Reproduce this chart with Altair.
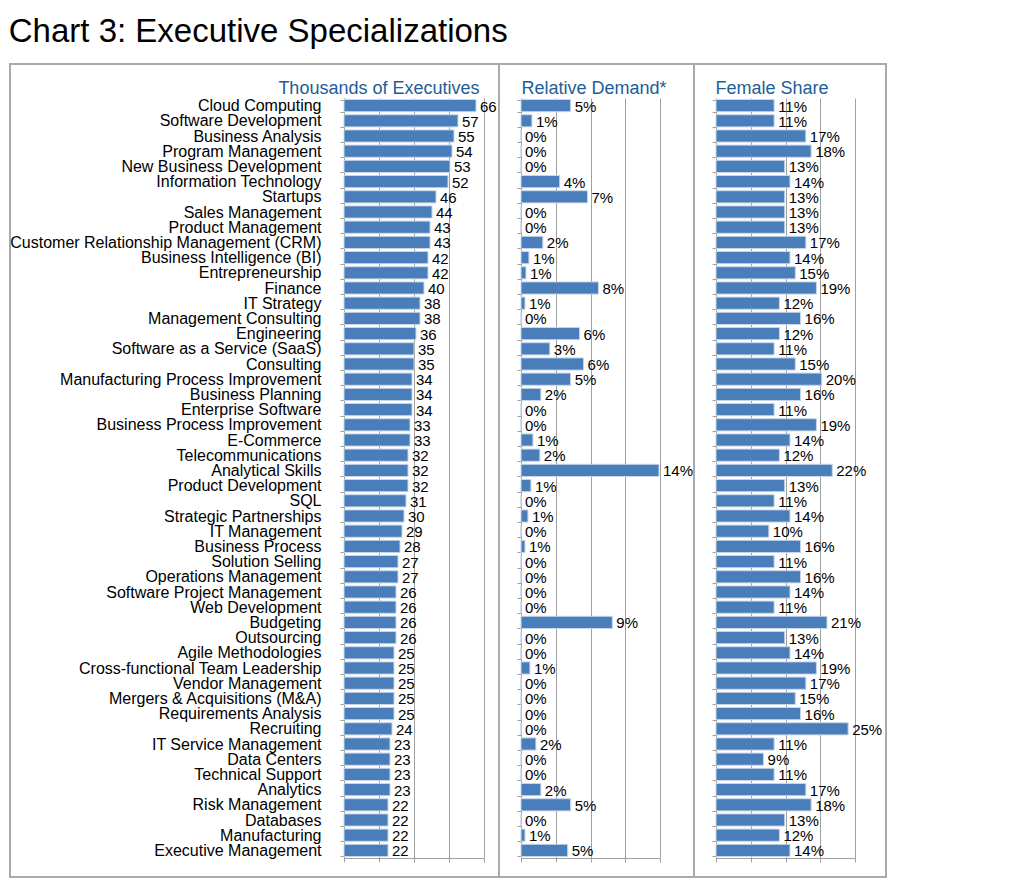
import altair as alt
import pandas as pd

skills = [
    "Cloud Computing", "Software Development", "Business Analysis", "Program Management",
    "New Business Development", "Information Technology", "Startups", "Sales Management",
    "Product Management", "Customer Relationship Management (CRM)", "Business Intelligence (BI)",
    "Entrepreneurship", "Finance", "IT Strategy", "Management Consulting", "Engineering",
    "Software as a Service (SaaS)", "Consulting", "Manufacturing Process Improvement",
    "Business Planning", "Enterprise Software", "Business Process Improvement", "E-Commerce",
    "Telecommunications", "Analytical Skills", "Product Development", "SQL",
    "Strategic Partnerships", "IT Management", "Business Process", "Solution Selling",
    "Operations Management", "Software Project Management", "Web Development", "Budgeting",
    "Outsourcing", "Agile Methodologies", "Cross-functional Team Leadership",
    "Vendor Management", "Mergers & Acquisitions (M&A)", "Requirements Analysis", "Recruiting",
    "IT Service Management", "Data Centers", "Technical Support", "Analytics",
    "Risk Management", "Databases", "Manufacturing", "Executive Management",
]

executives = [66, 57, 55, 54, 53, 52, 46, 44, 43, 43, 42, 42, 40, 38, 38, 36, 35, 35, 34, 34,
              34, 33, 33, 32, 32, 32, 31, 30, 29, 28, 27, 27, 26, 26, 26, 26, 25, 25, 25, 25,
              25, 24, 23, 23, 23, 23, 22, 22, 22, 22]

demand = [0.050, 0.011, 0.0, 0.0, 0.0, 0.039, 0.067, 0.0, 0.0, 0.022,
          0.008, 0.005, 0.078, 0.004, 0.0, 0.059, 0.029, 0.063, 0.050, 0.020,
          0.0, 0.0, 0.012, 0.019, 0.139, 0.010, 0.0, 0.007, 0.0, 0.004,
          0.0, 0.0, 0.0, 0.0, 0.092, 0.0, 0.0, 0.009, 0.0, 0.0,
          0.0, 0.0, 0.015, 0.0, 0.0, 0.020, 0.050, 0.0, 0.004, 0.047]

demand_labels = ["5%", "1%", "0%", "0%", "0%", "4%", "7%", "0%", "0%", "2%",
                 "1%", "1%", "8%", "1%", "0%", "6%", "3%", "6%", "5%", "2%",
                 "0%", "0%", "1%", "2%", "14%", "1%", "0%", "1%", "0%", "1%",
                 "0%", "0%", "0%", "0%", "9%", "0%", "0%", "1%", "0%", "0%",
                 "0%", "0%", "2%", "0%", "0%", "2%", "5%", "0%", "1%", "5%"]

female_share = [0.11, 0.11, 0.17, 0.18, 0.13, 0.14, 0.13, 0.13, 0.13, 0.17,
                0.14, 0.15, 0.19, 0.12, 0.16, 0.12, 0.11, 0.15, 0.20, 0.16,
                0.11, 0.19, 0.14, 0.12, 0.22, 0.13, 0.11, 0.14, 0.10, 0.16,
                0.11, 0.16, 0.14, 0.11, 0.21, 0.13, 0.14, 0.19, 0.17, 0.15,
                0.16, 0.25, 0.11, 0.09, 0.11, 0.17, 0.18, 0.13, 0.12, 0.14]

df = pd.DataFrame({
    "skill": skills,
    "execs": executives,
    "demand": demand,
    "demand_label": demand_labels,
    "female": female_share,
})

FONT = "Liberation Sans"
GRAY = "#a0a0a0"
BLUE = "#4a7ebb"
TITLE_BLUE = "#215e99"
Y_RANGE = [34, 794]
VIEW_H = 813
AXIS_OFF = -19


def y_enc(first, offset):
    if first:
        axis = alt.Axis(title=None, orient="left", offset=offset, labelPadding=19, tickSize=4,
                        labelLimit=400, labelFontSize=16, labelColor="black", labelFont=FONT,
                        tickBand="extent", domainColor=GRAY, tickColor=GRAY, grid=False)
    else:
        axis = alt.Axis(title=None, orient="left", offset=offset, labels=False, tickSize=4,
                        tickBand="extent", domainColor=GRAY, tickColor=GRAY, grid=False)
    return alt.Y("skill:N", sort=None,
                 scale=alt.Scale(range=Y_RANGE, paddingInner=0.2, paddingOuter=0.1),
                 axis=axis)


def tick_values(domain):
    step = domain[1] / 4
    return [0, step, 2 * step, 3 * step, 4 * step]


def x_bottom(field, domain, rng, title, title_x, title_align):
    axis_y = VIEW_H + AXIS_OFF
    return alt.X(field, scale=alt.Scale(domain=domain, range=rng, nice=False, zero=True),
                 axis=alt.Axis(title=title, orient="bottom", offset=AXIS_OFF, labels=False,
                               values=tick_values(domain), tickSize=4, grid=False,
                               domainColor=GRAY, tickColor=GRAY,
                               titleX=title_x, titleY=29 - axis_y, titleAlign=title_align,
                               titleBaseline="alphabetic", titleFont=FONT, titleFontSize=18,
                               titleFontWeight="normal", titleColor=TITLE_BLUE))


def x_top(field, domain, rng):
    return alt.X(field, scale=alt.Scale(domain=domain, range=rng, nice=False, zero=True),
                 axis=alt.Axis(title=None, orient="top", offset=-Y_RANGE[0], labels=False,
                               ticks=False, domain=False, values=tick_values(domain),
                               grid=True, gridColor=GRAY))


def panel(field, domain, rng, text_enc, first, width, title, title_x, title_align):
    y = y_enc(first, -rng[0])
    bars = alt.Chart(df).mark_bar(color=BLUE, stroke="#c6d5ea", strokeWidth=1).encode(
        y=y, x=x_bottom(field, domain, rng, title, title_x, title_align))
    text = alt.Chart(df).mark_text(align="left", baseline="middle", dx=4, dy=1, fontSize=15,
                                   font=FONT, color="black").encode(
        y=y, x=x_top(field, domain, rng), text=text_enc)
    return alt.layer(bars, text).resolve_axis(x="independent").properties(
        width=width, height=VIEW_H)


p1 = panel("execs:Q", [0, 70], [334, 474], alt.Text("execs:Q", format="d"), True, 489,
           "Thousands of Executives", 469, "right")
p2 = panel("demand:Q", [0, 0.14], [22, 161], alt.Text("demand_label:N"), False, 195,
           "Relative Demand*", 22, "left")
p3 = panel("female:Q", [0, 0.263], [22, 161], alt.Text("female:Q", format=".0%"), False, 192,
           "Female Share", 21, "left")

chart = alt.hconcat(p1, p2, p3, spacing=0, bounds="flush").properties(
    title=alt.TitleParams("Chart 3: Executive Specializations", anchor="start", fontSize=33,
                          font=FONT, fontWeight="normal", color="black",
                          baseline="alphabetic", offset=-20),
    padding={"top": 8, "left": 0, "right": 0, "bottom": 0},
).configure_view(stroke="#aaaaaa", strokeWidth=2)

chart.save("out.html", embed_options={"renderer": "svg", "actions": False})
